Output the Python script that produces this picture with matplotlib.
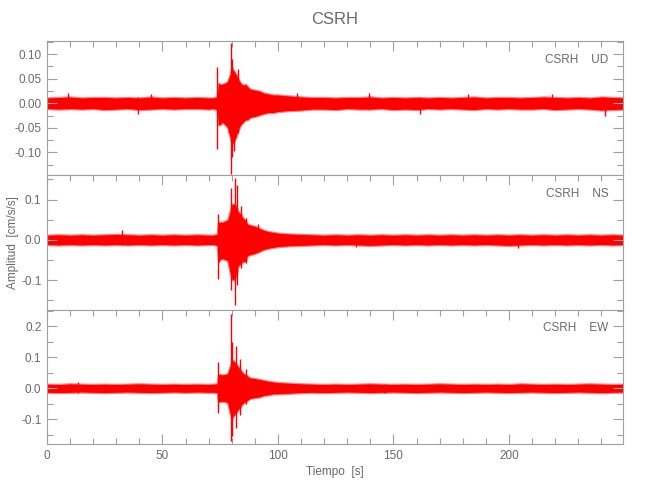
""" CSRH three-component accelerogram (UD, NS, EW)
Envelope of each trace plus its larger peaks, read off the original plot.
"""

import matplotlib
matplotlib.use("Agg")
import matplotlib.pyplot as plt
from matplotlib import font_manager
from matplotlib.ticker import MultipleLocator

station = "CSRH"
components = ["UD", "NS", "EW"]

# envelope sample times [s]
t_env = [0, 5, 10, 15, 20, 25, 30, 35, 40, 45, 50, 55, 60, 65, 70, 72, 73.5,
         74, 75, 76, 77, 78, 79, 80, 81, 82, 83, 84, 85, 86, 87, 88, 90, 92,
         94, 96, 98, 100, 105, 110, 115, 120, 125, 130, 135, 140, 145, 150,
         155, 160, 165, 170, 175, 180, 185, 190, 195, 200, 205, 210, 215, 220,
         225, 230, 235, 240, 245, 250]

# upper / lower envelope per component [cm/s/s]
ud_hi = [0.012, 0.013, 0.014, 0.012, 0.013, 0.013, 0.012, 0.013, 0.012, 0.014,
         0.012, 0.013, 0.012, 0.013, 0.012, 0.012, 0.014,
         0.042, 0.040, 0.040, 0.042, 0.045, 0.058, 0.075, 0.066, 0.060, 0.050,
         0.042, 0.038, 0.040, 0.035, 0.030, 0.028, 0.026,
         0.022, 0.020, 0.018, 0.018, 0.016, 0.014, 0.013, 0.013, 0.012, 0.013,
         0.013, 0.014, 0.012, 0.013, 0.012, 0.013, 0.012, 0.013, 0.012, 0.013,
         0.014, 0.012, 0.013, 0.013, 0.012, 0.013, 0.014, 0.013, 0.012, 0.013,
         0.012, 0.014, 0.013, 0.012]
ud_lo = [-0.012, -0.013, -0.012, -0.013, -0.012, -0.014, -0.013, -0.012, -0.014,
         -0.013, -0.012, -0.013, -0.012, -0.012, -0.013, -0.012, -0.014,
         -0.045, -0.045, -0.040, -0.045, -0.050, -0.068, -0.085, -0.080, -0.070,
         -0.055, -0.045, -0.040, -0.035, -0.035, -0.030, -0.028, -0.025,
         -0.022, -0.020, -0.020, -0.018, -0.016, -0.015, -0.013, -0.013, -0.014,
         -0.012, -0.013, -0.013, -0.012, -0.014, -0.013, -0.014, -0.012, -0.013,
         -0.012, -0.013, -0.014, -0.012, -0.013, -0.012, -0.013, -0.013, -0.012,
         -0.014, -0.013, -0.012, -0.013, -0.015, -0.014, -0.013]

ns_hi = [0.013, 0.014, 0.013, 0.014, 0.013, 0.014, 0.015, 0.014, 0.013, 0.014,
         0.013, 0.014, 0.013, 0.014, 0.013, 0.013, 0.015,
         0.045, 0.045, 0.045, 0.048, 0.050, 0.070, 0.090, 0.090, 0.085, 0.070,
         0.065, 0.055, 0.050, 0.040, 0.038, 0.035, 0.030,
         0.025, 0.022, 0.020, 0.018, 0.016, 0.015, 0.014, 0.013, 0.014, 0.013,
         0.014, 0.013, 0.014, 0.013, 0.014, 0.013, 0.014, 0.013, 0.014, 0.013,
         0.014, 0.013, 0.014, 0.013, 0.014, 0.013, 0.014, 0.013, 0.014, 0.013,
         0.014, 0.013, 0.014, 0.013]
ns_lo = [-0.013, -0.014, -0.013, -0.014, -0.013, -0.014, -0.013, -0.014, -0.013,
         -0.014, -0.013, -0.014, -0.013, -0.014, -0.013, -0.013, -0.015,
         -0.050, -0.050, -0.048, -0.050, -0.052, -0.080, -0.100, -0.100, -0.090,
         -0.065, -0.060, -0.055, -0.055, -0.040, -0.038, -0.035, -0.030,
         -0.025, -0.022, -0.020, -0.018, -0.016, -0.015, -0.014, -0.013, -0.014,
         -0.013, -0.014, -0.015, -0.014, -0.013, -0.014, -0.013, -0.014, -0.013,
         -0.014, -0.013, -0.014, -0.013, -0.014, -0.015, -0.014, -0.013, -0.014,
         -0.013, -0.014, -0.013, -0.014, -0.013, -0.014, -0.013]

ew_hi = [0.015, 0.014, 0.016, 0.015, 0.014, 0.015, 0.014, 0.015, 0.016, 0.015,
         0.014, 0.015, 0.014, 0.015, 0.014, 0.015, 0.016,
         0.046, 0.046, 0.045, 0.046, 0.048, 0.070, 0.090, 0.090, 0.080, 0.070,
         0.060, 0.050, 0.045, 0.040, 0.035, 0.033, 0.030,
         0.027, 0.024, 0.022, 0.020, 0.018, 0.016, 0.015, 0.014, 0.015, 0.014,
         0.015, 0.016, 0.015, 0.014, 0.015, 0.014, 0.015, 0.016, 0.015, 0.014,
         0.015, 0.014, 0.015, 0.014, 0.016, 0.015, 0.014, 0.015, 0.014, 0.015,
         0.016, 0.015, 0.014, 0.015]
ew_lo = [-0.015, -0.016, -0.015, -0.014, -0.015, -0.016, -0.015, -0.014, -0.015,
         -0.016, -0.015, -0.014, -0.015, -0.014, -0.015, -0.015, -0.016,
         -0.045, -0.045, -0.044, -0.045, -0.048, -0.080, -0.100, -0.090, -0.080,
         -0.070, -0.060, -0.050, -0.045, -0.040, -0.035, -0.032, -0.030,
         -0.025, -0.023, -0.020, -0.020, -0.018, -0.016, -0.015, -0.016, -0.015,
         -0.014, -0.015, -0.016, -0.015, -0.014, -0.015, -0.016, -0.015, -0.014,
         -0.015, -0.016, -0.015, -0.014, -0.015, -0.016, -0.015, -0.014, -0.015,
         -0.016, -0.015, -0.014, -0.015, -0.016, -0.015, -0.014]

# individual peaks: time [s], positive peak, negative peak
ud_spk_t = [9.2, 39.5, 45.0, 73.7, 78.6, 79.8, 80.3, 81.0, 82.5, 108.4, 139.6,
            161.6, 182.4, 218.5, 241.5]
ud_spk_hi = [0.020, 0.012, 0.018, 0.074, 0.050, 0.122, 0.090, 0.066, 0.070,
             0.020, 0.020, 0.012, 0.018, 0.018, 0.012]
ud_spk_lo = [-0.012, -0.022, -0.012, -0.093, -0.060, -0.145, -0.110, -0.097,
             -0.060, -0.012, -0.012, -0.021, -0.012, -0.012, -0.026]

ns_spk_t = [32.3, 73.9, 74.5, 79.6, 81.5, 82.3, 84.0, 86.2, 91.5, 134.0, 204.0]
ns_spk_hi = [0.024, 0.064, 0.030, 0.128, 0.153, 0.136, 0.083, 0.054, 0.039,
             0.012, 0.012]
ns_spk_lo = [-0.012, -0.097, -0.054, -0.124, -0.161, -0.112, -0.070, -0.058,
             -0.030, -0.017, -0.020]

ew_spk_t = [13.6, 74.2, 79.5, 80.0, 81.7, 83.5, 86.2, 146.3]
ew_spk_hi = [0.021, 0.086, 0.240, 0.148, 0.137, 0.095, 0.062, 0.014]
ew_spk_lo = [-0.014, -0.080, -0.169, -0.153, -0.129, -0.088, -0.050, -0.017]

y_limits = [(-0.147, 0.127), (-0.173, 0.160), (-0.180, 0.2535)]
y_major = [0.05, 0.1, 0.1]
y_minor = [0.025, 0.05, 0.05]
y_fmt = ["%.2f", "%.1f", "%.1f"]

envelopes = [(ud_hi, ud_lo), (ns_hi, ns_lo), (ew_hi, ew_lo)]
spikes = [(ud_spk_t, ud_spk_hi, ud_spk_lo),
          (ns_spk_t, ns_spk_hi, ns_spk_lo),
          (ew_spk_t, ew_spk_hi, ew_spk_lo)]

names = {f.name for f in font_manager.fontManager.ttflist}
font = "Liberation Sans" if "Liberation Sans" in names else "DejaVu Sans"
plt.rcParams["font.family"] = font
plt.rcParams["axes.unicode_minus"] = True

txt = "#6a6a6a"
axc = "#a0a0a0"
red = "#ff0000"
fs = 8.5

fig = plt.figure(figsize=(6.5, 5), dpi=100)
left, width = 47 / 650, 576 / 650
bottom, height = 56 / 500, 403 / 500
ph = height / 3

for i, comp in enumerate(components):
    ax = fig.add_axes([left, bottom + (2 - i) * ph, width, ph])
    hi, lo = envelopes[i]
    ax.fill_between(t_env, lo, hi, facecolor=red, edgecolor="#ff8080",
                    linewidth=0.8)
    st, sh, sl = spikes[i]
    ax.vlines(st, sl, sh, color=red, linewidth=1.0)

    ax.set_xlim(0, 249.4)
    ax.set_ylim(*y_limits[i])
    ax.xaxis.set_major_locator(MultipleLocator(50))
    ax.xaxis.set_minor_locator(MultipleLocator(10))
    ax.yaxis.set_major_locator(MultipleLocator(y_major[i]))
    ax.yaxis.set_minor_locator(MultipleLocator(y_minor[i]))
    ax.yaxis.set_major_formatter(plt.FormatStrFormatter(y_fmt[i]))

    last = i == len(components) - 1
    ax.tick_params(which="both", direction="in", colors=axc, labelcolor=txt,
                   labelsize=fs, top=True, right=True, bottom=last,
                   labelbottom=last, width=0.8)
    ax.tick_params(which="major", length=7, pad=4)
    ax.tick_params(which="minor", length=4)
    for s in ax.spines.values():
        s.set_color(axc)
        s.set_linewidth(0.8)

    ax.text(0.975, 0.86, station + "    " + comp, transform=ax.transAxes,
            ha="right", va="center", color=txt, fontsize=fs)

    if last:
        ax.set_xlabel("Tiempo  [s]", color=txt, fontsize=fs, labelpad=3)

fig.text(0.515, 0.962, station, ha="center", va="center", color=txt, fontsize=12)
fig.text(0.02, bottom + height / 2, "Amplitud  [cm/s/s]", rotation=90,
         ha="center", va="center", color=txt, fontsize=fs)

fig.savefig("out.png", dpi=100)
